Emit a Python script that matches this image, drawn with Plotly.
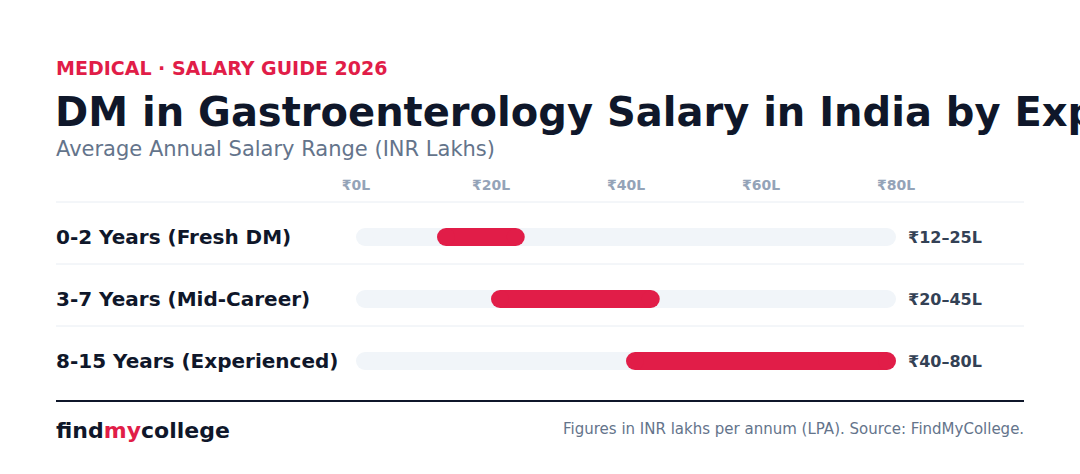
import plotly.graph_objects as go

# ---- data ----
categories = ["0-2 Years (Fresh DM)", "3-7 Years (Mid-Career)", "8-15 Years (Experienced)"]
salary_low = [12, 20, 40]
salary_high = [25, 45, 80]
value_labels = ["₹12–25L", "₹20–45L", "₹40–80L"]
tick_values = [0, 20, 40, 60, 80]
tick_labels = ["₹0L", "₹20L", "₹40L", "₹60L", "₹80L"]
axis_max = 80

kicker = "MEDICAL · SALARY GUIDE 2026"
title = "DM in Gastroenterology Salary in India by Experience"
subtitle = "Average Annual Salary Range (INR Lakhs)"
source = "Figures in INR lakhs per annum (LPA). Source: FindMyCollege."

# ---- style ----
W, H = 1080, 474
FONT = "DejaVu Sans"
RED = "#e11d48"
DARK = "#0f172a"
GREY = "#64748b"
TRACK = "#f1f5f9"
SEP = "#e8edf3"

x_left_px, x_right_px = 356, 896
row_top_px, row_bot_px = 206, 392
PILL_PX = 18  # pill thickness in pixels

def py(px):
    return 1 - px / H

rows = list(range(len(categories)))
# half the pill thickness expressed in x data units (so the round caps end exactly at low/high)
cap = (PILL_PX / 2) * axis_max / (x_right_px - x_left_px)


def pill_trace(lows, highs, color):
    xs, ys = [], []
    for r, lo, hi in zip(rows, lows, highs):
        xs += [lo + cap, hi - cap, None]
        ys += [r, r, None]
    return go.Scatter(
        x=xs, y=ys, mode="lines+markers",
        line=dict(color=color, width=PILL_PX),
        marker=dict(color=color, size=PILL_PX, symbol="circle", line=dict(width=0)),
        hoverinfo="skip", showlegend=False, cliponaxis=False,
    )


fig = go.Figure()
fig.add_trace(pill_trace([0] * len(rows), [axis_max] * len(rows), TRACK))
fig.add_trace(pill_trace(salary_low, salary_high, RED))

annotations = []
LX = 56 / W
# header
annotations.append(dict(text=f"<b>{kicker}</b>", x=LX, y=py(68), xref="paper", yref="paper",
                        xanchor="left", yanchor="middle", showarrow=False, xshift=-2,
                        font=dict(family=FONT, size=19, color=RED)))
annotations.append(dict(text=f"<b>{title}</b>", x=LX, y=py(112), xref="paper", yref="paper",
                        xanchor="left", yanchor="middle", showarrow=False, xshift=-3,
                        font=dict(family=FONT, size=40, color=DARK)))
annotations.append(dict(text=subtitle, x=LX, y=py(149), xref="paper", yref="paper",
                        xanchor="left", yanchor="middle", showarrow=False, xshift=-2,
                        font=dict(family=FONT, size=21, color=GREY)))

# row labels and value labels
for i, (cat, lab) in enumerate(zip(categories, value_labels)):
    annotations.append(dict(text=f"<b>{cat}</b>", x=LX, y=i, xref="paper", yref="y",
                            xanchor="left", yanchor="middle", showarrow=False, xshift=-2,
                            font=dict(family=FONT, size=20, color=DARK)))
    annotations.append(dict(text=f"<b>{lab}</b>", x=axis_max, y=i, xref="x", yref="y",
                            xanchor="left", yanchor="middle", showarrow=False, xshift=10,
                            font=dict(family=FONT, size=16, color="#334155")))

# footer
annotations.append(dict(text=f"<b>find<span style='color:{RED}'>my</span>college</b>",
                        x=LX, y=py(430), xref="paper", yref="paper",
                        xanchor="left", yanchor="middle", showarrow=False, xshift=-2,
                        font=dict(family=FONT, size=22, color=DARK)))
annotations.append(dict(text=source, x=1024 / W, y=py(429), xref="paper", yref="paper",
                        xanchor="right", yanchor="middle", showarrow=False, xshift=2,
                        font=dict(family=FONT, size=15, color=GREY)))

shapes = []
for px in (202, 264, 326):
    shapes.append(dict(type="line", xref="paper", yref="paper", x0=56 / W, x1=1024 / W,
                       y0=py(px), y1=py(px), line=dict(color=SEP, width=1)))
shapes.append(dict(type="line", xref="paper", yref="paper", x0=56 / W, x1=1024 / W,
                   y0=py(401), y1=py(401), line=dict(color=DARK, width=2)))

fig.update_layout(
    width=W, height=H,
    margin=dict(l=0, r=0, t=0, b=0, autoexpand=False),
    paper_bgcolor="white", plot_bgcolor="white",
    showlegend=False,
    annotations=annotations,
    shapes=shapes,
    xaxis=dict(domain=[x_left_px / W, x_right_px / W], range=[0, axis_max], side="top",
               tickvals=tick_values, ticktext=[f"<b>{t}</b>" for t in tick_labels],
               tickfont=dict(family=FONT, size=14, color="#94a3b8"),
               showgrid=False, zeroline=False, showline=False, ticks="",
               ticklabelstandoff=12, fixedrange=True),
    yaxis=dict(domain=[py(row_bot_px), py(row_top_px)], range=[len(rows) - 0.5, -0.5],
               showticklabels=False, showgrid=False, zeroline=False, showline=False,
               ticks="", fixedrange=True),
)

fig.write_html(
    "out.html",
    config={"displayModeBar": False, "responsive": False},
    post_script="document.body.style.margin='0';document.body.style.overflow='hidden';",
)
